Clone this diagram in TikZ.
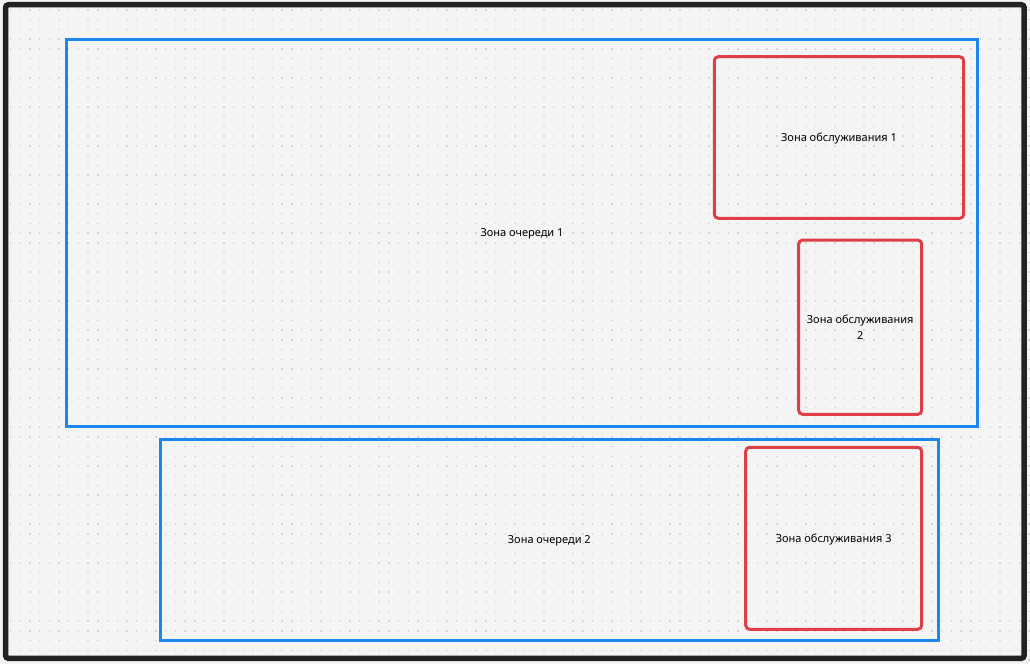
\documentclass[tikz,border=0pt]{standalone}
\usepackage{fontspec}
\setmainfont{Noto Sans}
\definecolor{boardbg}{HTML}{F4F4F4}
\definecolor{boarddot}{HTML}{D4D4D4}
\definecolor{queueblue}{HTML}{1A86EE}
\definecolor{servered}{HTML}{DE3F47}
\definecolor{frameblack}{HTML}{222222}
\tikzset{
  queuebox/.style={rectangle,draw=queueblue,line width=3pt,outer sep=0pt},
  servebox/.style={rectangle,draw=servered,line width=3pt,rounded corners=4pt,outer sep=0pt,align=center},
}
\begin{document}
\begin{tikzpicture}[x=1pt,y=-1pt,every node/.style={font=\fontsize{11}{16}\selectfont,text=black,text depth=0pt}]
\fill[boardbg] (0,0) rectangle (1030,664);
\useasboundingbox (0,0) rectangle (1030,664);
\foreach \i in {0,...,105}
  \foreach \j in {0,...,67}
    \fill[boarddot] ({10.5+9.7*\i-0.7},{10+9.7*\j-0.7}) rectangle +(1.4,1.4);
\draw[frameblack,line width=5.5pt,rounded corners=3pt] (5.5,4.7) rectangle (1024.2,658.3);

\begin{scope}[every node/.append style={queuebox}]
    \node[minimum width=911pt,minimum height=386.5pt] (queue1) at (522,232.8) {Зона очереди 1};
    \node[minimum width=777.5pt,minimum height=200.5pt] (queue2) at (549.3,539.8) {Зона очереди 2};
\end{scope}

\begin{scope}[every node/.append style={servebox}]
    \node[minimum width=249.4pt,minimum height=161.6pt] (serve1) at (839,137.5) {Зона обслуживания 1};
    \node[minimum width=123pt,minimum height=174.3pt] (serve2) at (860.2,327.2) {Зона обслуживания\\2};
    \node[minimum width=176pt,minimum height=182pt] (serve3) at (833.7,538.3) {Зона обслуживания 3};
\end{scope}
\end{tikzpicture}
\end{document}
